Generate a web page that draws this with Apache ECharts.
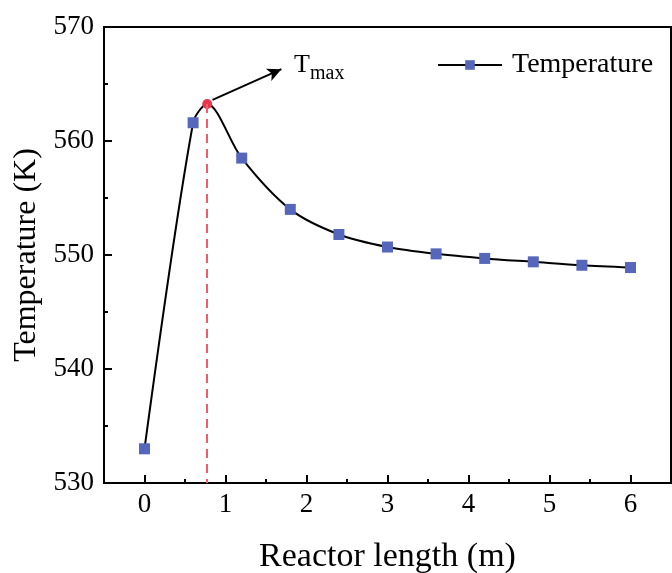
<!DOCTYPE html>
<html>
<head>
<meta charset="utf-8">
<script src="https://cdn.jsdelivr.net/npm/echarts@6/dist/echarts.min.js"></script>
<style>
  html, body { margin: 0; padding: 0; background: #fff; }
  #chart { width: 672px; height: 573px; }
</style>
</head>
<body>
<div id="chart"></div>
<script>
// 数据
var lengths = [0, 0.6, 1.2, 1.8, 2.4, 3.0, 3.6, 4.2, 4.8, 5.4, 6.0];
var temps = [533.0, 561.6, 558.5, 554.0, 551.8, 550.7, 550.1, 549.7, 549.4, 549.1, 548.9];
var tmaxPoint = [0.774, 563.25];
var xTicks = [0, 1, 2, 3, 4, 5, 6];
var xMinorTicks = [0.5, 1.5, 2.5, 3.5, 4.5, 5.5];
// 箭头位置
var arrowFrom = [0.84, 563.6];
var arrowTo = [1.69, 566.3];

var font = "Liberation Serif";

// 曲线数据：测量点 + Tmax 点（按位置插入）
var curve = [];
lengths.forEach(function (x, i) {
  if (x > tmaxPoint[0] && curve.length && curve[curve.length - 1].value[0] < tmaxPoint[0]) {
    curve.push({
      value: tmaxPoint,
      symbol: "circle",
      symbolSize: 10,
      itemStyle: { color: "#e8364f" },
    });
  }
  curve.push({ value: [x, temps[i]] });
});

var blackLine = { color: "#000", width: 2 };

var chart = echarts.init(document.getElementById("chart"));
var option = {
  animation: false,
  grid: {
    left: 104,
    right: 1,
    top: 27,
    bottom: 90,
    outerBoundsMode: "none",
    show: true,
    borderColor: "#000",
    borderWidth: 2,
  },
  legend: {
    left: 432,
    top: 46,
    itemWidth: 64,
    itemHeight: 12,
    data: ["Temperature"],
    textStyle: {
      fontFamily: font,
      fontSize: 28,
      color: "#000",
      padding: [0, 0, 0, 5],
    },
  },
  xAxis: [
    {
      type: "value",
      min: -0.5,
      max: 6.5,
      name: "Reactor length (m)",
      nameLocation: "middle",
      nameGap: 57,
      nameTextStyle: { fontFamily: font, fontSize: 34, color: "#000" },
      axisLine: { onZero: false, lineStyle: blackLine },
      axisTick: { inside: true, length: 8, customValues: xTicks, lineStyle: blackLine },
      axisLabel: {
        fontFamily: font,
        fontSize: 27,
        color: "#000",
        margin: 8,
        customValues: xTicks,
      },
      splitLine: { show: false },
    },
    {
      // 次刻度
      type: "value",
      position: "bottom",
      offset: 0,
      min: -0.5,
      max: 6.5,
      axisLine: { show: false, onZero: false },
      axisTick: { show: true, inside: true, length: 4, customValues: xMinorTicks, lineStyle: blackLine },
      axisLabel: { show: false },
      splitLine: { show: false },
    },
  ],
  yAxis: {
    type: "value",
    min: 530,
    max: 570,
    interval: 10,
    name: "Temperature (K)",
    nameLocation: "middle",
    nameGap: 55,
    nameTextStyle: { fontFamily: font, fontSize: 32, color: "#000" },
    axisLine: { show: true, onZero: false, lineStyle: blackLine },
    axisTick: { show: true, inside: true, length: 8, lineStyle: blackLine },
    minorTick: { show: true, splitNumber: 2, length: 4, lineStyle: blackLine },
    axisLabel: { fontFamily: font, fontSize: 27, color: "#000", margin: 10 },
    splitLine: { show: false },
  },
  graphic: [
    {
      type: "text",
      left: 294,
      top: 52,
      style: { text: "T", font: "26px " + font, fill: "#000" },
    },
    {
      type: "text",
      left: 310,
      top: 64,
      style: { text: "max", font: "20px " + font, fill: "#000" },
    },
  ],
  series: [
    {
      name: "Temperature",
      type: "line",
      data: curve,
      smooth: 0.3,
      symbol: "rect",
      symbolSize: 11,
      itemStyle: { color: "#5566bb" },
      lineStyle: { color: "#000", width: 2 },
      z: 3,
      markLine: {
        silent: true,
        animation: false,
        label: { show: false },
        data: [
          [
            { coord: tmaxPoint, symbol: "none", lineStyle: { color: "#f25c6e", width: 2, type: [9, 6] } },
            { coord: [tmaxPoint[0], 530], symbol: "none" },
          ],
          [
            { coord: arrowFrom, symbol: "none", lineStyle: { color: "#000", width: 2, type: "solid" } },
            { coord: arrowTo, symbol: "arrow", symbolSize: [10, 14] },
          ],
        ],
      },
    },
  ],
};
chart.setOption(option);
</script>
</body>
</html>
